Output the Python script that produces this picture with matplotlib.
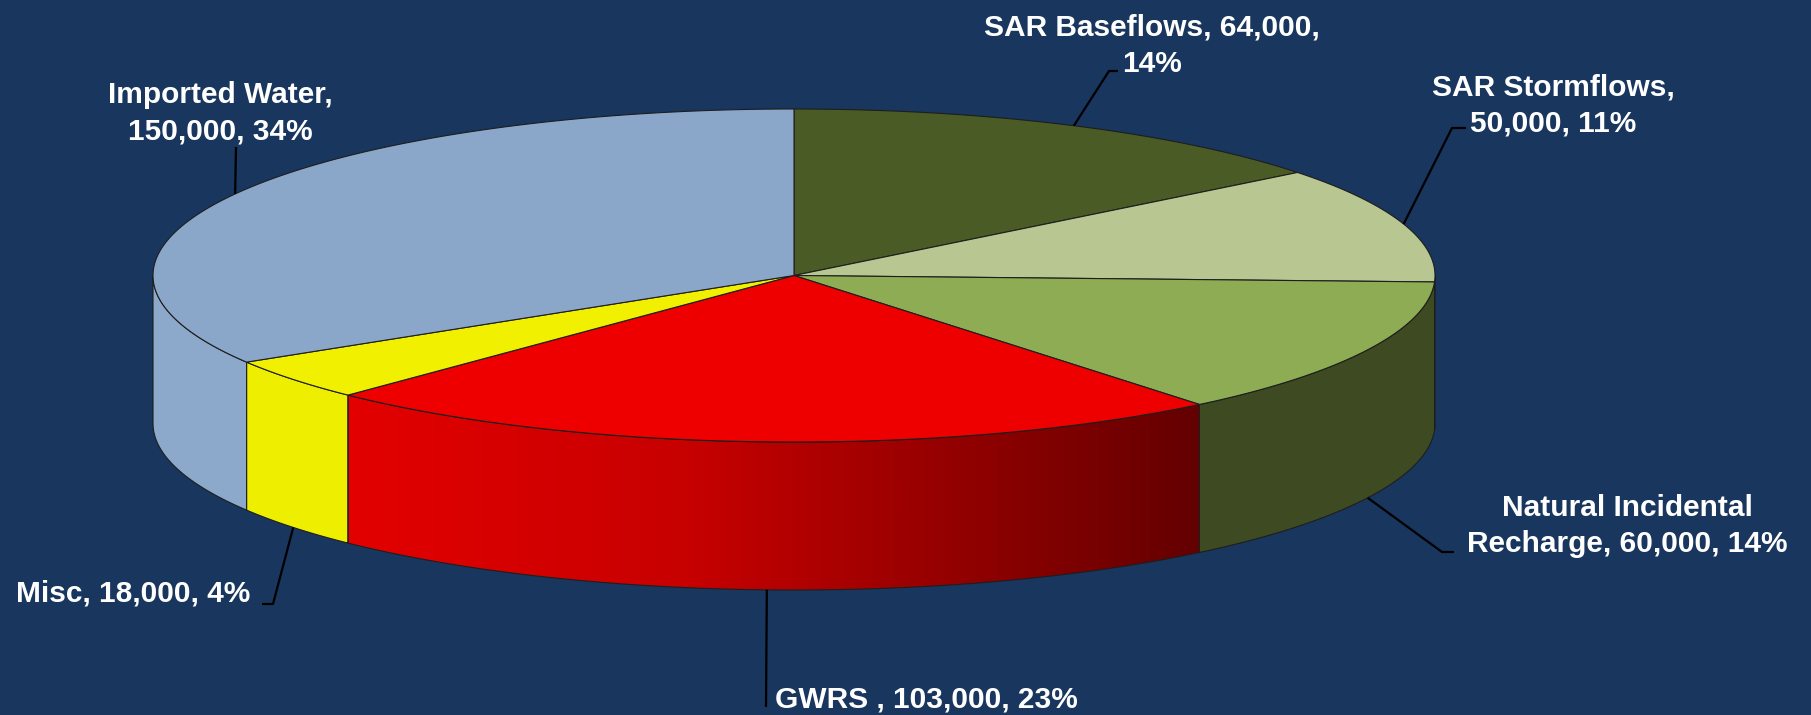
import numpy as np
import matplotlib
matplotlib.use("Agg")
import matplotlib.pyplot as plt
from matplotlib.patches import Polygon
from matplotlib.colors import LinearSegmentedColormap

# ---------------- data ----------------
categories = ["SAR Baseflows", "SAR Stormflows", "Natural Incidental Recharge",
              "GWRS", "Misc", "Imported Water"]
values = [64000, 50000, 60000, 103000, 18000, 150000]
percents = [14, 11, 14, 23, 4, 34]
label_lines = [
    ["SAR Baseflows, 64,000,", "14%"],
    ["SAR Stormflows,", "50,000, 11%"],
    ["Natural Incidental", "Recharge, 60,000, 14%"],
    ["GWRS , 103,000, 23%"],
    ["Misc, 18,000, 4%"],
    ["Imported Water,", "150,000, 34%"],
]

# ---------------- styles ----------------
bg = "#18365E"
top_colors = ["#4B5B25", "#B8C792", "#8DAC53", "#EE0000", "#F0F000", "#8AA7C9"]
side_colors = ["#323D18", "#6E7A55", "#3E4B22", None, "#EEEE00", "#8CA8CA"]
edge = "#1E1E1E"

# ---------------- layout ----------------
W, H = 1811, 715
cx, cy, rx, ry, depth = 794, 275.5, 641, 166.5, 148
# text: x centre, baselines of each line
text_pos = [
    (1152, [35, 72]),
    (1553, [95, 131]),
    (1627, [516, 552]),
    (926, [707]),
    (133, [602]),
    (220, [103, 140]),
]
# leader elbow points (after the anchor on the pie)
leader_pts = [
    [(1109, 71), (1118, 71)],
    [(1452, 128), (1466, 128)],
    [(1442, 552), (1454, 552)],
    [(766, 707)],
    [(273, 604), (262, 604)],
    [(236, 147)],
]

fig = plt.figure(figsize=(W / 100, H / 100), dpi=100, facecolor=bg)
ax = fig.add_axes([0, 0, 1, 1])
ax.set_facecolor(bg)


def ell(theta_deg, dz=0.0):
    t = np.radians(theta_deg)
    return cx + rx * np.cos(t), cy - ry * np.sin(t) + dz


fr = np.array(values, dtype=float) / np.sum(values)
bounds = 90 - 360 * np.concatenate([[0], np.cumsum(fr)])

# ---- side faces (front half: angles between -180 and 0) ----
for i in range(len(values)):
    s, e = bounds[i], bounds[i + 1]
    a, b = min(s, 0), max(e, -180)
    if a <= b:
        continue
    th = np.linspace(a, b, 200)
    tx, ty = ell(th)
    bx, by = ell(th[::-1], depth)
    xs = np.concatenate([tx, bx])
    ys = np.concatenate([ty, by])
    pts = np.column_stack([xs, ys])
    if side_colors[i] is None:
        poly = Polygon(pts, closed=True, facecolor="none", edgecolor=edge, lw=0.8, zorder=3)
        ax.add_patch(poly)
        cmap = LinearSegmentedColormap.from_list(
            "g", [(0.0, (0.89, 0, 0)), (0.4, (0.78, 0, 0)), (1.0, (0.39, 0, 0))])
        grad = np.linspace(0, 1, 512)[None, :]
        im = ax.imshow(grad, cmap=cmap, extent=(xs.min(), xs.max(), ys.max(), ys.min()),
                       aspect="auto", zorder=2, interpolation="bilinear")
        im.set_clip_path(poly)
    else:
        ax.add_patch(Polygon(pts, closed=True, facecolor=side_colors[i],
                             edgecolor=edge, lw=0.8, zorder=2))

# ---- top faces ----
for i in range(len(values)):
    s, e = bounds[i], bounds[i + 1]
    th = np.linspace(s, e, 300)
    tx, ty = ell(th)
    pts = np.column_stack([np.concatenate([[cx], tx]), np.concatenate([[cy], ty])])
    ax.add_patch(Polygon(pts, closed=True, facecolor=top_colors[i],
                         edgecolor=edge, lw=0.8, zorder=4))

# ---- leader lines and labels ----
for i in range(len(values)):
    mid = (bounds[i] + bounds[i + 1]) / 2
    dz = depth if np.sin(np.radians(mid)) < 0 else 0
    ax0, ay0 = ell(mid, dz)
    xs = [ax0] + [p[0] for p in leader_pts[i]]
    ys = [ay0] + [p[1] for p in leader_pts[i]]
    ax.plot(xs, ys, color="black", lw=1.6, zorder=5, solid_capstyle="butt")
    x, bls = text_pos[i]
    for line, bl in zip(label_lines[i], bls):
        ax.text(x, bl, line, ha="center", va="baseline", color="white",
                fontsize=21.5, fontweight="bold", family=["Liberation Sans", "DejaVu Sans"],
                zorder=6)

ax.set_xlim(0, W)
ax.set_ylim(H, 0)
ax.axis("off")
fig.savefig("out.png", dpi=100, facecolor=bg)
